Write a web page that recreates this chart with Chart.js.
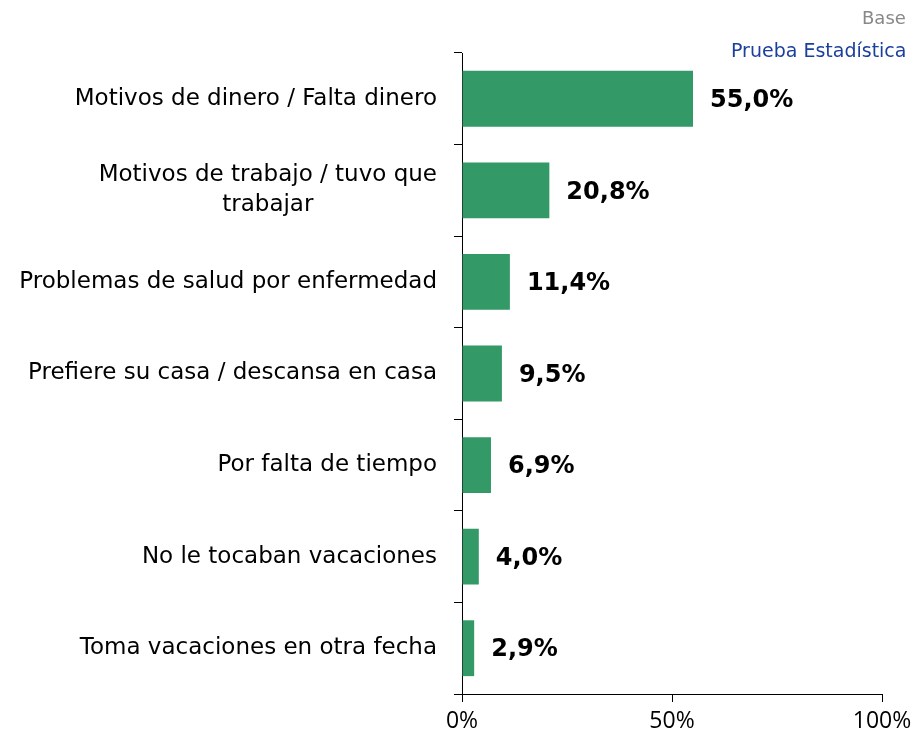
<!DOCTYPE html>
<html>
<head>
<meta charset="utf-8">
<script src="https://cdn.jsdelivr.net/npm/chart.js@4"></script>
<style>
  html, body { margin: 0; padding: 0; background: #fff; }
  .chart-wrap { position: relative; width: 914px; height: 745px; }
</style>
</head>
<body>
<div class="chart-wrap"><canvas id="motivosChart"></canvas></div>
<script>
// categories (multi-line labels use an array)
const categories = [
  'Motivos de dinero / Falta dinero',
  ['Motivos de trabajo / tuvo que', 'trabajar'],
  'Problemas de salud por enfermedad',
  'Prefiere su casa / descansa en casa',
  'Por falta de tiempo',
  'No le tocaban vacaciones',
  'Toma vacaciones en otra fecha'
];
const values = [55.0, 20.8, 11.4, 9.5, 6.9, 4.0, 2.9];
const tickValues = [0, 50, 100];

const LABEL_FONT = '23px "DejaVu Sans"';
const VALUE_FONT = 'bold 24px "DejaVu Sans"';

/* y labels drawn by hand so a wrapped label can be centred line by line */
const categoryLabels = {
  id: 'categoryLabels',
  afterDraw(chart) {
    const { ctx } = chart;
    const y = chart.scales.y;
    ctx.save();
    ctx.font = LABEL_FONT;
    ctx.fillStyle = '#000';
    ctx.textBaseline = 'middle';
    categories.forEach((lab, i) => {
      const lines = Array.isArray(lab) ? lab : [lab];
      const cy = y.getPixelForValue(i);
      const w = Math.max(...lines.map(l => ctx.measureText(l).width));
      const right = 437;
      const lh = 30;
      lines.forEach((l, j) => {
        const ly = cy + (j - (lines.length - 1) / 2) * lh;
        ctx.textAlign = 'center';
        ctx.fillText(l, right - w / 2, ly);
      });
    });
    ctx.restore();
  }
};

const valueLabels = {
  id: 'valueLabels',
  afterDatasetsDraw(chart) {
    const { ctx } = chart;
    const meta = chart.getDatasetMeta(0);
    ctx.save();
    ctx.font = VALUE_FONT;
    ctx.fillStyle = '#000';
    ctx.textAlign = 'left';
    ctx.textBaseline = 'middle';
    meta.data.forEach((bar, i) => {
      const txt = values[i].toFixed(1).replace('.', ',') + '%';
      ctx.fillText(txt, bar.x + 17, bar.y + 2);
    });
    ctx.restore();
  }
};

const headerText = {
  id: 'headerText',
  afterDraw(chart) {
    const { ctx } = chart;
    ctx.save();
    ctx.font = '18px "DejaVu Sans"';
    ctx.textAlign = 'left';
    ctx.textBaseline = 'middle';
    ctx.fillStyle = '#888';
    ctx.fillText('Base', 862, 19);
    ctx.font = '19px "DejaVu Sans"';
    ctx.fillStyle = '#1a3f9c';
    ctx.fillText('Prueba Estadística', 731, 52);
    ctx.restore();
  }
};

new Chart(document.getElementById('motivosChart'), {
  type: 'bar',
  data: {
    labels: categories,
    datasets: [{
      data: values,
      backgroundColor: '#339966',
      barPercentage: 0.61,
      categoryPercentage: 1
    }]
  },
  options: {
    indexAxis: 'y',
    responsive: true,
    maintainAspectRatio: false,
    animation: false,
    layout: { padding: { top: 53, right: 32, left: 0, bottom: 0 } },
    plugins: { legend: { display: false }, tooltip: { enabled: false } },
    scales: {
      x: {
        min: 0, max: 100,
        afterBuildTicks: s => { s.ticks = tickValues.map(v => ({ value: v })); },
        afterFit: s => { s.height = 51; s.paddingRight = 0; s.paddingLeft = 0; },
        border: { color: '#000', width: 1 },
        grid: { drawOnChartArea: false, color: '#000', tickLength: 8 },
        ticks: {
          color: '#000',
          padding: 6,
          font: { family: '"Open Sans"', size: 23 },
          callback: v => v + '%'
        }
      },
      y: {
        afterFit: s => { s.width = 462; },
        border: { color: '#000', width: 1 },
        grid: { drawOnChartArea: false, color: '#000', tickLength: 8, offset: true },
        ticks: { display: false }
      }
    }
  },
  plugins: [categoryLabels, valueLabels, headerText]
});
</script>
</body>
</html>
